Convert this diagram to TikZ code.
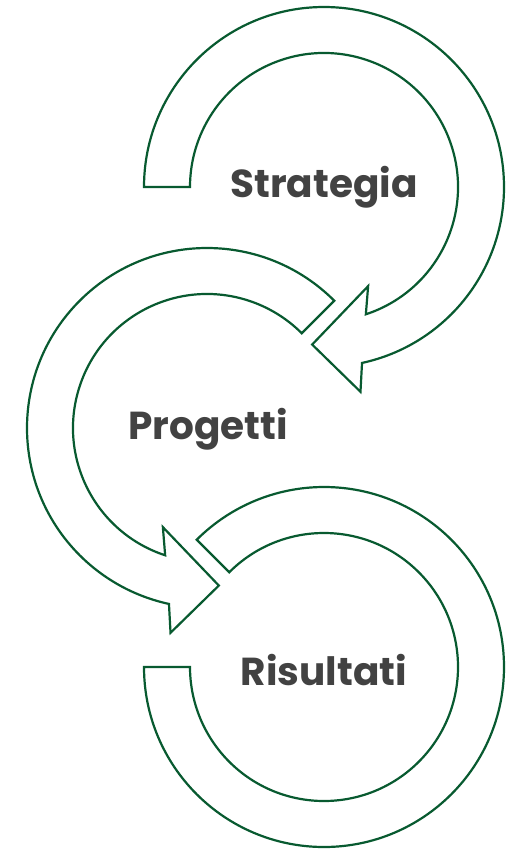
\documentclass[tikz,border=0pt]{standalone}
\usepackage{fontspec}
\setmainfont{Poppins}[Ligatures={NoCommon,NoRequired,NoContextual}]
\definecolor{bandgreen}{RGB}{8,90,48}
\definecolor{labelgray}{RGB}{66,66,66}
\tikzset{
  band/.style={draw=bandgreen, line width=2.2pt, line join=miter, fill=white},
  cyclelabel/.style={text=labelgray, font=\bfseries\fontsize{39}{42}\selectfont, inner sep=0pt}
}
\begin{document}
\begin{tikzpicture}[x=1pt, y=-1pt]
  \useasboundingbox (0,0) rectangle (514,849);

  % bottom ring (no head)
  \begin{scope}[shift={(324,667)}]
    \draw[band] (180:180) arc[start angle=180, end angle=-135, radius=180]
      -- (-135:134) arc[start angle=-135, end angle=180, radius=134] -- cycle;
    \node[cyclelabel] (risultati) at (0,3) {Risultati};
  \end{scope}

  % middle ring, head pointing to the right at the bottom
  \begin{scope}[shift={(207,428)}]
    \draw[band] (-45:180) arc[start angle=-45, end angle=-257.8, radius=180]
      -- (-259.9:208) -- (-274.3:158) -- (-246:108.5) -- (-251.8:134)
      arc[start angle=-251.8, end angle=-45, radius=134] -- cycle;
    \node[cyclelabel] (progetti) at (1,1) {Progetti};
  \end{scope}

  % top ring, head pointing to the left at the bottom
  \begin{scope}[shift={(324,187)}]
    \draw[band] (180:180) arc[start angle=180, end angle=437.8, radius=180]
      -- (439.9:208) -- (454.3:158) -- (426:108.5) -- (431.8:134)
      arc[start angle=431.8, end angle=180, radius=134] -- cycle;
    \node[cyclelabel] (strategia) at (0,0) {Strategia};
  \end{scope}
\end{tikzpicture}
\end{document}
